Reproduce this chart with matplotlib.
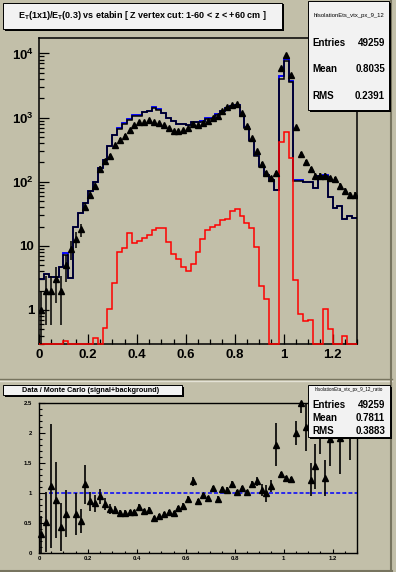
import numpy as np
import matplotlib
matplotlib.use("Agg")
import matplotlib.pyplot as plt
from matplotlib.patches import Rectangle
from matplotlib.lines import Line2D
from matplotlib.ticker import LogLocator, MultipleLocator, NullFormatter

plt.rcParams['font.family'] = ['Liberation Sans', 'DejaVu Sans']
plt.rcParams['mathtext.fontset'] = 'custom'
plt.rcParams['mathtext.rm'] = 'Liberation Sans'
plt.rcParams['mathtext.bf'] = 'Liberation Sans:bold'
plt.rcParams['mathtext.it'] = 'Liberation Sans:italic'

W, H = 396, 572
BG = '#c2bfa9'

# 65 bins of 0.02 between 0 and 1.3
nbins = 65
edges = np.linspace(0.0, 1.3, nbins + 1)
centers = 0.5 * (edges[:-1] + edges[1:])

# MC histograms (top pad)
mc_black = [3.0, 3.7, 3.3, 3.3, 4.7, 7.3, 3.1, 20, 32, 46,
            71, 100, 164, 215, 356, 526, 670, 800, 920, 1070,
            1070, 1230, 1255, 1420, 1330, 1170, 990, 876, 796, 796,
            760, 855, 855, 860, 960, 960, 1100, 1250, 1400, 1500,
            1550, 1060, 700, 425, 250, 171, 125, 108, 75, 4060,
            7500, 3550, 104, 104, 98, 98, 81, 124, 124, 57,
            39, 42, 26, 29, 27.6]
mc_red = [0, 0, 0, 0, 0, 0.33, 0, 0, 0, 0,
          0, 0.37, 0, 0.52, 1.04, 2.6, 7.9, 9.2, 15.8, 11,
          12, 13.2, 14.8, 17.8, 18.9, 18.9, 11.3, 7.4, 6.2, 4.75,
          4.07, 5.2, 8.0, 12.7, 17.4, 19.6, 21.3, 25.5, 26.5, 34.4,
          37.3, 29.4, 22.6, 18.9, 9.7, 2.4, 1.47, 0, 0, 422,
          590, 231, 2.94, 0.88, 0.67, 0.7, 0, 0, 1.05, 0.51,
          0, 0, 0.39, 0, 0]
data_counts = [1, 2, 2, 3, 2, 5, 9, 13, 18, 41,
               63, 87, 160, 208, 250, 370, 455, 522, 647, 760,
               855, 855, 910, 855, 830, 770, 690, 612, 612, 647,
               695, 805, 760, 830, 900, 980, 1050, 1255, 1450, 1595,
               1640, 1180, 750, 480, 300, 190, 137, 114, 135, 6000,
               9300, 4680, 705, 271, 200, 157, 124, 124, 124, 113,
               110, 85, 72, 61, 61]

# Data / MC ratio (bottom pad)
ratio = [0.31, 0.52, 1.11, 0.88, 0.43, 0.65, np.nan, 0.65, 0.54, 1.14,
         0.86, 0.83, 0.94, 0.81, 0.73, 0.72, 0.67, 0.67, 0.68, 0.68,
         0.77, 0.70, 0.72, 0.58, 0.61, 0.65, 0.68, 0.66, 0.75, 0.79,
         0.90, 1.19, 0.86, 0.96, 0.915, 1.08, 0.90, 1.06, 1.05, 1.15,
         1.01, 1.08, 1.01, 1.15, 1.19, 1.05, 0.99, 1.12, 1.80, 1.31,
         1.25, 1.23, 2.0, 2.5, 2.1, 1.22, 1.44, 2.2, 1.24, 1.9,
         2.3, 1.92, 2.3, 2.15, 2.3]
ratio_err = [0.31, 0.5, 1.03, 0.63, 0.4, 0.39, 0, 0.35, 0.2, 0.32,
             0.16, 0.14, 0.13, 0.1, 0.08, 0.06, 0.04, 0.04, 0.04, 0.04,
             0.04, 0.04, 0.04, 0.04, 0.04, 0.04, 0.04, 0.04, 0.04, 0.04,
             0.04, 0.07, 0.04, 0.04, 0.04, 0.04, 0.04, 0.04, 0.04, 0.04,
             0.04, 0.04, 0.04, 0.04, 0.08, 0.1, 0.14, 0.1, 0.36, 0.03,
             0.03, 0.03, 0.2, 0.17, 0.4, 0.28, 0.37, 0.55, 0.3, 0.45,
             0.3, 0.6, 0.3, 0.6, 0.3]

x_ticks = [0, 0.2, 0.4, 0.6, 0.8, 1.0, 1.2]
x_ticklabels = ['0', '0.2', '0.4', '0.6', '0.8', '1', '1.2']
log_ticks = [1, 10, 100, 1000, 10000]
log_ticklabels = ['1', '10', r'$\mathbf{10^{2}}$', r'$\mathbf{10^{3}}$', r'$\mathbf{10^{4}}$']
ratio_ticks = [0, 0.5, 1, 1.5, 2, 2.5]
ratio_ticklabels = ['0', '0.5', '1', '1.5', '2', '2.5']


def fx(x):
    return x / W


def fy(y):
    return 1 - y / H


def fig_line(fig, x0, y0, x1, y1, color, lw=1.0):
    fig.add_artist(Line2D([fx(x0), fx(x1)], [fy(y0), fy(y1)], transform=fig.transFigure,
                          color=color, lw=lw))


def fig_box(fig, x0, y0, x1, y1, shadow=1.5):
    fig.add_artist(Rectangle((fx(x0 + shadow), fy(y1 + shadow)), fx(x1) - fx(x0), fy(y0) - fy(y1),
                             transform=fig.transFigure, facecolor='black', edgecolor='none', zorder=5))
    fig.add_artist(Rectangle((fx(x0), fy(y1)), fx(x1) - fx(x0), fy(y0) - fy(y1),
                             transform=fig.transFigure, facecolor='#f2f2f2', edgecolor='black',
                             lw=0.7, zorder=6))


fig = plt.figure(figsize=(W / 100, H / 100), dpi=100, facecolor=BG)

# pad borders (ROOT style bevel)
fig_line(fig, 391, 0, 391, 378, '#77745f', 1.5)
fig_line(fig, 0, 378.5, 392, 378.5, '#77745f', 1.0)
fig_line(fig, 0, 380.5, 392, 380.5, '#e4e2d6', 1.0)
fig_line(fig, 391, 381, 391, 571, '#77745f', 1.5)
fig_line(fig, 0, 570.5, 392, 570.5, '#77745f', 1.5)

# ---------------- top pad ----------------
ax1 = fig.add_axes([fx(39), fy(344), fx(357) - fx(39), fy(38) - fy(344)])
ax1.set_facecolor(BG)
ax1.set_yscale('log')
ymin, ymax = 0.295, 1.74e4
ax1.set_xlim(0, 1.3)
ax1.set_ylim(ymin, ymax)

black = np.array(mc_black)
red = np.array(mc_red)
blue = black + red
# empty bins sit on the bottom of the frame, as in ROOT
red_drawn = np.where(red > 0, red, ymin)

ax1.stairs(blue, edges, baseline=None, color='#0000ff', lw=1.35, zorder=2)
ax1.stairs(black, edges, baseline=None, color='black', lw=1.1, zorder=3)
ax1.stairs(red_drawn, edges, baseline=None, color='#ff0000', lw=1.1, zorder=3, clip_on=False)

counts = np.array(data_counts, dtype=float)
ax1.errorbar(centers, counts, yerr=np.sqrt(counts), fmt='^', color='black', ms=4.8,
             elinewidth=1.1, capsize=0, zorder=4)

ax1.set_xticks(x_ticks)
ax1.set_xticklabels(x_ticklabels, fontsize=9.5, fontweight='bold')
ax1.xaxis.set_minor_locator(MultipleLocator(0.05))
ax1.set_yticks(log_ticks)
ax1.set_yticklabels(log_ticklabels, fontsize=9.5, fontweight='bold')
ax1.yaxis.set_minor_locator(LogLocator(base=10, subs=np.arange(2, 10)))
ax1.yaxis.set_minor_formatter(NullFormatter())
ax1.tick_params(which='both', direction='in', top=False, right=False, width=0.9)
ax1.tick_params(which='major', length=7, pad=3.5)
ax1.tick_params(which='minor', length=3.4)
for s in ax1.spines.values():
    s.set_linewidth(1.1)

# ---------------- bottom pad ----------------
ax2 = fig.add_axes([fx(39), fy(553), fx(357) - fx(39), fy(402.7) - fy(553)])
ax2.set_facecolor(BG)
ax2.set_xlim(0, 1.3)
ax2.set_ylim(0, 2.5)
ax2.hlines(1, 0.04, 1.3, colors='#0000ff', linestyles=(0, (2.6, 1.4)), lw=1.1, zorder=2)
mk, caps, bars = ax2.errorbar(centers, ratio, yerr=ratio_err, fmt='^', color='black', ms=4.8,
                              elinewidth=1.2, capsize=0, zorder=3)
mk.set_clip_on(False)

ax2.set_xticks(x_ticks)
ax2.set_xticklabels(x_ticklabels, fontsize=4.3, fontweight='bold')
ax2.xaxis.set_minor_locator(MultipleLocator(0.05))
ax2.set_yticks(ratio_ticks)
ax2.set_yticklabels(ratio_ticklabels, fontsize=4.3, fontweight='bold')
ax2.yaxis.set_minor_locator(MultipleLocator(0.1))
ax2.tick_params(which='both', direction='in', top=False, right=False, width=0.8)
ax2.tick_params(axis='x', which='major', length=3.0, pad=2)
ax2.tick_params(axis='x', which='minor', length=1.7)
ax2.tick_params(axis='y', which='major', length=4.3, pad=5)
ax2.tick_params(axis='y', which='minor', length=2.5)
for s in ax2.spines.values():
    s.set_linewidth(1.0)

# ---------------- titles and stat boxes ----------------
fig_box(fig, 3, 3, 282, 29)
fig.text(fx(142), fy(16), r'$\mathbf{E_{T}}$(1x1)/$\mathbf{E_{T}}$(0.3) vs etabin [ Z vertex cut: 1-60 < z < +60 cm ]',
         ha='center', va='center', fontsize=6.5, fontweight='bold', zorder=7)

fig_box(fig, 308, 1, 389, 110)
fig_line(fig, 308, 29, 389, 29, 'black', 0.7)
fig.text(fx(348.5), fy(15), 'hIsolationEts_vtx_px_9_12', ha='center', va='center', fontsize=4.2, zorder=7)
for label, value, yy in [('Entries', '49259', 43), ('Mean', '0.8035', 69), ('RMS', '0.2391', 96)]:
    fig.text(fx(312), fy(yy), label, ha='left', va='center', fontsize=7, fontweight='bold', zorder=7)
    fig.text(fx(385), fy(yy), value, ha='right', va='center', fontsize=7, fontweight='bold', zorder=7)

fig_box(fig, 3, 385, 182, 395)
fig.text(fx(91), fy(390), 'Data / Monte Carlo (signal+background)', ha='center', va='center',
         fontsize=5.2, fontweight='bold', zorder=7)

fig_box(fig, 308, 385, 390, 437)
fig_line(fig, 308, 395, 390, 395, 'black', 0.7)
fig.text(fx(349), fy(390), 'hIsolationEta_vtx_px_9_12_ratio', ha='center', va='center', fontsize=3.3, zorder=7)
for label, value, yy in [('Entries', '49259', 405), ('Mean', '0.7811', 418), ('RMS', '0.3883', 431)]:
    fig.text(fx(312), fy(yy), label, ha='left', va='center', fontsize=7, fontweight='bold', zorder=7)
    fig.text(fx(385), fy(yy), value, ha='right', va='center', fontsize=7, fontweight='bold', zorder=7)

fig.savefig('out.png', dpi=100, facecolor=BG)
